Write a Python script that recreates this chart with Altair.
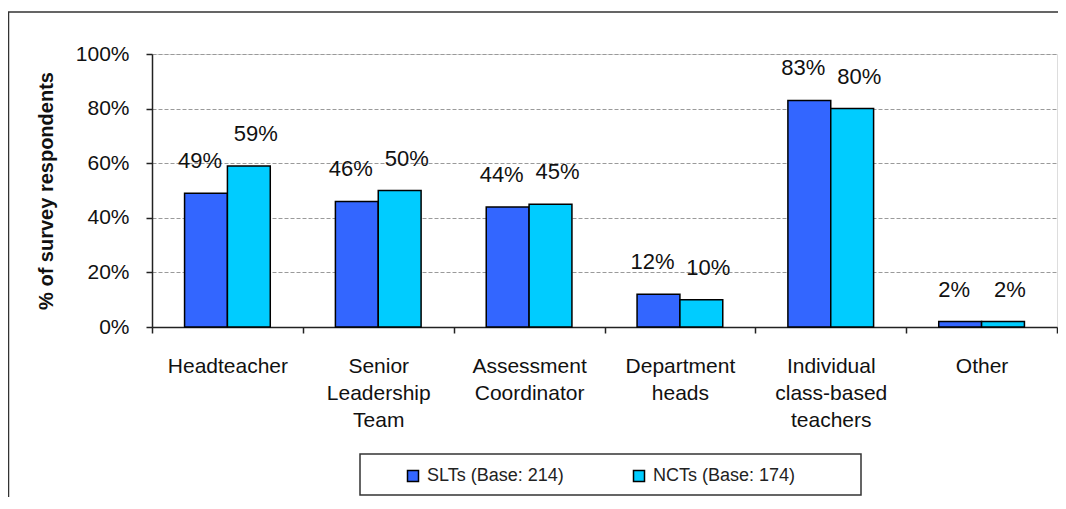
import altair as alt
import pandas as pd

categories = ["Headteacher", "Senior Leadership Team", "Assessment Coordinator",
              "Department heads", "Individual class-based teachers", "Other"]
groups = ["SLTs (Base: 214)", "NCTs (Base: 174)"]
slt_values = [0.49, 0.46, 0.44, 0.12, 0.83, 0.02]
nct_values = [0.59, 0.50, 0.45, 0.10, 0.80, 0.02]
colors = ["#3366FF", "#00CCFF"]
y_ticks = [0, 0.2, 0.4, 0.6, 0.8, 1.0]

rows = []
for c, v in zip(categories, slt_values):
    rows.append({"category": c, "group": groups[0], "value": v})
for c, v in zip(categories, nct_values):
    rows.append({"category": c, "group": groups[1], "value": v})
df = pd.DataFrame(rows)

FONT = "Liberation Sans"

x_enc = alt.X("category:N", sort=categories,
              scale=alt.Scale(paddingInner=0, paddingOuter=0),
              axis=alt.Axis(title=None, labelAngle=0, labelFontSize=21, labelFont=FONT,
                            labelColor="#111", labelLineHeight=27,
                            labelExpr="split(datum.label, ' ')",
                            labelBaseline="top", labelPadding=22, labelLimit=300,
                            tickBand="extent", tickSize=6, tickColor="#222",
                            domainColor="#222", domainWidth=1.5, tickWidth=1.5))
xo_enc = alt.XOffset("group:N", sort=groups,
                     scale=alt.Scale(paddingOuter=0.76, paddingInner=0))
y_enc = alt.Y("value:Q", scale=alt.Scale(domain=[0, 1], nice=False),
              axis=alt.Axis(values=y_ticks, format=".0%", grid=True, gridDash=[4, 2],
                            gridColor="#9a9a9a", gridWidth=1,
                            domainColor="#222", domainWidth=1.5, tickColor="#222",
                            tickWidth=1.5, tickSize=6,
                            labelFontSize=21, labelFont=FONT, labelColor="#111",
                            labelPadding=17,
                            title="% of survey respondents", titleFontSize=20,
                            titleFont=FONT, titleFontWeight="bold", titleColor="#111",
                            titlePadding=19))

base = alt.Chart(df)

bars = base.mark_bar(stroke="black", strokeWidth=1.5).encode(
    x=x_enc, xOffset=xo_enc, y=y_enc,
    color=alt.Color("group:N", sort=groups,
                    scale=alt.Scale(domain=groups, range=colors),
                    legend=alt.Legend(orient="none", legendX=252, legendY=413,
                                      direction="horizontal", title=None,
                                      symbolType="square", symbolSize=121,
                                      symbolStrokeColor="black", symbolStrokeWidth=1.5,
                                      labelFontSize=18, labelFont=FONT, labelColor="#222",
                                      columnPadding=66, labelOffset=5, padding=0)),
)


def value_labels(group, dx):
    return base.transform_filter(alt.datum.group == group).mark_text(
        font=FONT, fontSize=22, baseline="alphabetic", dy=-25, dx=dx, color="#111"
    ).encode(
        x=alt.X("category:N", sort=categories),
        xOffset=alt.XOffset("group:N", sort=groups),
        y="value:Q",
        text=alt.Text("value:Q", format=".0%"),
    )


labels_slt = value_labels(groups[0], -6)
labels_nct = value_labels(groups[1], 7)

one = pd.DataFrame({"k": [0]})
legend_box = alt.Chart(one).mark_rect(fill="transparent", stroke="#333", strokeWidth=1.5).encode(
    x=alt.value(208), x2=alt.value(709), y=alt.value(400), y2=alt.value(441))
outer_frame = alt.Chart(one).mark_rect(fill="transparent", stroke="#333", strokeWidth=1.5).encode(
    x=alt.value(-143.5), x2=alt.value(1000), y=alt.value(-42), y2=alt.value(700))

chart = alt.layer(outer_frame, legend_box, bars, labels_slt, labels_nct).properties(
    width=905, height=273,
    autosize=alt.AutoSizeParams(type="none"),
    padding={"left": 144, "top": 46, "right": 1, "bottom": 170},
).configure_view(stroke="#8a8a8a", strokeWidth=2).configure(background="white")

chart.save("out.html", embed_options={"renderer": "svg", "actions": False})
